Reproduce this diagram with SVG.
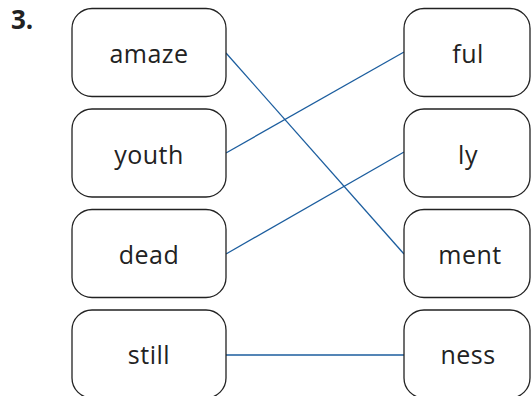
<svg xmlns="http://www.w3.org/2000/svg" width="532" height="396" viewBox="0 0 532 396">
<style>
.box{fill:#fff;stroke:#222;stroke-width:1.3}
.t{font-family:"Open Sans","Liberation Sans",sans-serif;font-size:25px;fill:#222;text-anchor:middle;letter-spacing:0.5px}
.c{stroke:#1b5d9e;stroke-width:1.3;fill:none}
.n{font-family:"Open Sans","Liberation Sans",sans-serif;font-size:26px;font-weight:bold;fill:#222}
</style>
<rect width="532" height="396" fill="#fff"/>
<text class="n" x="11" y="29">3.</text>
<g id="connectors">
<line class="c" x1="226" y1="53" x2="404" y2="254"/>
<line class="c" x1="226" y1="153" x2="404" y2="52"/>
<line class="c" x1="226" y1="254" x2="404" y2="152"/>
<line class="c" x1="226" y1="355" x2="404" y2="355"/>
</g>
<g id="amaze"><rect class="box" x="72" y="8.5" width="154" height="88" rx="20"/><text class="t" x="149" y="63">amaze</text></g>
<g id="youth"><rect class="box" x="72" y="109" width="154" height="88" rx="20"/><text class="t" x="149" y="164">youth</text></g>
<g id="dead"><rect class="box" x="72" y="209.5" width="154" height="88" rx="20"/><text class="t" x="149" y="264">dead</text></g>
<g id="still"><rect class="box" x="72" y="310" width="154" height="88" rx="20"/><text class="t" x="149" y="364">still</text></g>
<g id="ful"><rect class="box" x="404" y="8.5" width="126" height="88" rx="20"/><text class="t" x="468" y="63">ful</text></g>
<g id="ly"><rect class="box" x="404" y="109" width="126" height="88" rx="20"/><text class="t" x="468" y="164">ly</text></g>
<g id="ment"><rect class="box" x="404" y="209.5" width="126" height="88" rx="20"/><text class="t" x="470" y="264">ment</text></g>
<g id="ness"><rect class="box" x="404" y="310" width="126" height="88" rx="20"/><text class="t" x="468" y="364">ness</text></g>
</svg>
